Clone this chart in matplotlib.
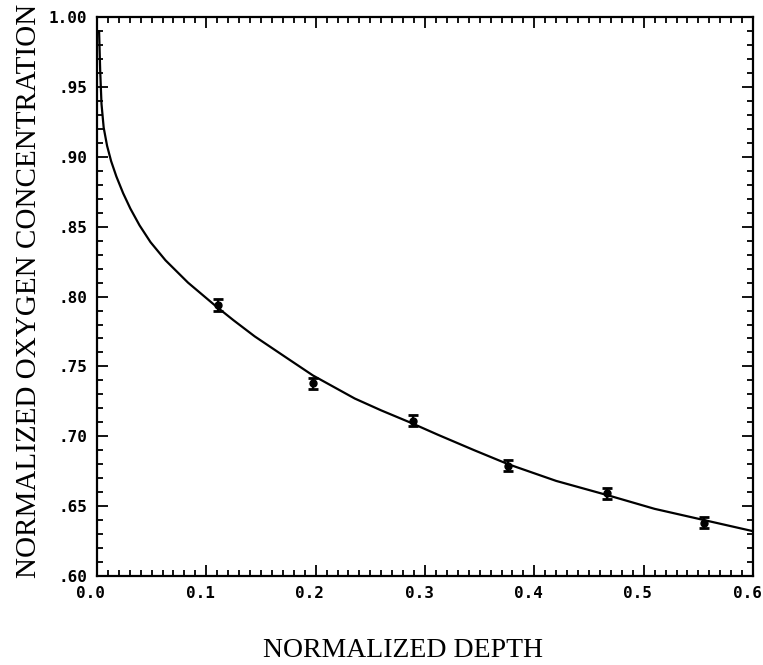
import numpy as np
import matplotlib
matplotlib.use('Agg')
import matplotlib.pyplot as plt
import matplotlib.transforms as mtransforms
from matplotlib.ticker import MultipleLocator, FixedLocator, FixedFormatter

# measured points (normalized depth, normalized O2 concentration)
depth = [0.111, 0.198, 0.289, 0.376, 0.466, 0.555]
conc = [0.794, 0.738, 0.711, 0.679, 0.659, 0.638]
conc_err = [0.004, 0.004, 0.004, 0.004, 0.004, 0.004]

# fitted curve
curve_x = [0.0020, 0.0030, 0.0042, 0.0062, 0.0093, 0.013, 0.0178, 0.024,
           0.0306, 0.039, 0.049, 0.0627, 0.0833, 0.109, 0.125, 0.1443,
           0.1747, 0.1976, 0.2358, 0.260, 0.286, 0.312, 0.345, 0.376,
           0.420, 0.466, 0.510, 0.555, 0.600]
curve_y = [0.990, 0.962, 0.938, 0.921, 0.908, 0.897, 0.886, 0.874,
           0.863, 0.851, 0.839, 0.826, 0.810, 0.793, 0.783, 0.7715,
           0.7555, 0.7435, 0.727, 0.7185, 0.710, 0.701, 0.690, 0.680,
           0.668, 0.658, 0.648, 0.640, 0.632]

xticks = [0.0, 0.1, 0.2, 0.3, 0.4, 0.5, 0.6]
xtick_labels = ['0.0', '0.1', '0.2', '0.3', '0.4', '0.5', '0.6']
yticks = [0.60, 0.65, 0.70, 0.75, 0.80, 0.85, 0.90, 0.95, 1.00]
ytick_labels = ['.60', '.65', '.70', '.75', '.80', '.85', '.90', '.95', '1.00']

fig = plt.figure(figsize=(7.63, 6.65), dpi=100)
ax = fig.add_axes([0.127, 0.134, 0.86, 0.840])

ax.plot(curve_x, curve_y, color='k', lw=1.6)
ax.errorbar(depth, conc, yerr=conc_err, fmt='o', color='k', ms=5,
            capsize=3.5, capthick=2, elinewidth=1.6)

ax.set_xlim(0, 0.6)
ax.set_ylim(0.60, 1.00)
ax.xaxis.set_major_locator(FixedLocator(xticks))
ax.xaxis.set_major_formatter(FixedFormatter(xtick_labels))
ax.yaxis.set_major_locator(FixedLocator(yticks))
ax.yaxis.set_major_formatter(FixedFormatter(ytick_labels))
ax.xaxis.set_minor_locator(MultipleLocator(0.01))
ax.yaxis.set_minor_locator(MultipleLocator(0.01))
ax.tick_params(which='both', direction='in', top=True, right=True, width=1.3)
ax.tick_params(which='major', length=8, pad=7)
ax.tick_params(which='minor', length=4.5)
for s in ax.spines.values():
    s.set_linewidth(1.6)
shift = mtransforms.ScaledTranslation(-0.06, 0, fig.dpi_scale_trans)
for lab in ax.get_xticklabels() + ax.get_yticklabels():
    lab.set_family('DejaVu Sans Mono')
    lab.set_fontweight('bold')
    lab.set_fontsize(11.5)
for lab in ax.get_xticklabels():
    lab.set_transform(lab.get_transform() + shift)

ax.set_xlabel('NORMALIZED DEPTH', family='Liberation Serif', fontsize=20)
ax.set_ylabel('NORMALIZED OXYGEN CONCENTRATION', family='Liberation Serif', fontsize=21)
ax.xaxis.set_label_coords(0.467, -0.112)
ax.yaxis.set_label_coords(-0.084, 0.51)

fig.savefig('out.png', dpi=100)
